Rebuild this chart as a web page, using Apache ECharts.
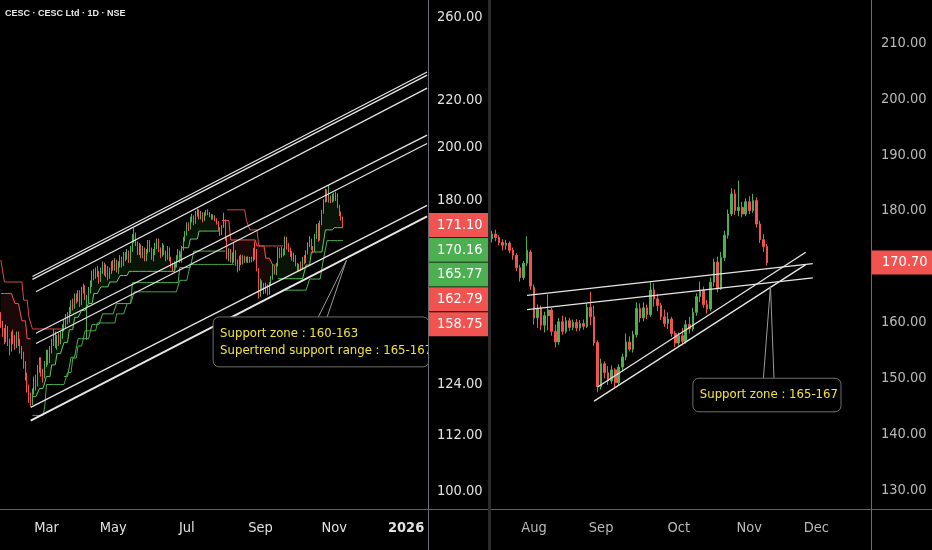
<!DOCTYPE html>
<html><head><meta charset="utf-8">
<script src="https://cdn.jsdelivr.net/npm/echarts@6.0.0/dist/echarts.min.js"></script>
<style>html,body{margin:0;padding:0;background:#000;overflow:hidden}#c{width:932px;height:550px}</style>
</head><body><div id="c"></div>
<script>
const FONT = "'Liberation Sans Narrow','DejaVu Sans Condensed',Roboto,sans-serif";
const NOTE_FONT = "'Liberation Sans Narrow','DejaVu Sans Condensed',sans-serif";
const UP = '#4caf50', DN = '#f05350';
const TITLE = 'CESC · CESC Ltd · 1D · NSE';
const holidays = ['2025-02-26','2025-03-14','2025-03-31','2025-04-10','2025-04-14','2025-04-18','2025-05-01','2025-08-15','2025-08-27','2025-10-02','2025-10-21','2025-10-22','2025-11-05','2025-12-25'];
const leftRange = ['2025-01-23','2026-01-19'];
const rightRange = ['2025-07-16','2025-12-22'];
const leftPriceRange = [96.45, 269.4];
const rightPriceRange = [126.6, 217.7];
const leftPriceTicks = [100,112,124,180,200,220,260];
const rightPriceTicks = [130,140,150,160,180,190,200,210];
const leftMonthTicks = [2,4,6,8,10,0];
const rightMonthTicks = [7,8,9,10,11];
const monthNames = ['Jan','Feb','Mar','Apr','May','Jun','Jul','Aug','Sep','Oct','Nov','Dec'];

// daily candles [open, close, low, high]
const jan25 = [[142,140,139,143.5],[140,138,136.5,141],[138,136,134.5,139],[136,139,135,140],[139,135,134,139.5],[135,133,131.5,136],[133,137,132.5,138]];
const feb25 = [[137,136,134.5,138.5],[136,134,133,137],[134,137,133.5,138],[137,135,134,138],[135,133,132,136],[133,132,130.5,134],[132,129,128,132.5],[129,126,125,130],[126,123,122,127],[123,121,119.5,124],[121,120,118.6,122],[120,122,119,123],[122,125,121.5,126],[125,124,122.5,126.5],[124,128,123.5,129],[128,130,127,131],[130,127,126,131],[127,126,124.5,128],[126,129,125.5,130]];
const mar25 = [[129,132,128.5,133],[132,130,129,133],[130,133,129.5,134],[133,135,132,136],[135,137,134,138.7],[137,134,133.5,138],[134,136,133,137],[136,135,134,137.5],[135,137,134.5,138],[137,139,136,140],[139,140,138,141.5],[140,142,139,143],[142,141,140,143.5],[141,144,140.5,145],[144,146,143,147],[146,145,144,147.5],[145,148,144.5,149],[148,147,146,149],[147,149,146.5,150]];
const apr25 = [[149,146,145,150],[146,150,145.5,151],[150,151,149,152],[151,148,147,151.5],[140,147,135.7,148.5],[147,150,146,151],[150,152,149,153],[152,155,151,156],[155,154,153,156.5],[154,156,153.5,157],[156,155,154,157.5],[155,153,152,156],[153,156,152.5,157],[156,158,155,159],[158,155,154.5,158.6],[155,157,154,158],[157,154,153,157.5],[154,156,153.5,157],[156,158,155,159]];
const may25 = [[158,157,156,159.4],[157,159,156,160],[159,156,155.5,159.5],[156,158,155,159],[158,160,157,161],[160,158,157,160.5],[158,161,157.5,162],[161,160,159,162],[160,162,159.5,163],[162,159,158.5,162.5],[159,163,158.5,164],[163,167,162,168],[167,168,165,170.2],[168,165,164,168.5],[165,162,161,165.5],[162,164,161,165],[164,161,160,164.5],[161,163,160,164],[163,160,159,163.5],[160,162,159,163],[162,165,161.5,166]];
const jun25 = [[165,163,162,166],[163,160,159.5,163.5],[160,162,159,163],[162,164,161,165],[164,166,163,166.5],[166,163,162,166.5],[163,161,160,163.5],[161,164,160.5,165],[164,162,161,164.5],[162,160,159,162.5],[160,163,159.5,164],[163,160,159,163.5],[160,158,157,160.5],[158,156,155.5,158.5],[156,158,155.5,159],[158,160,157,161],[160,162,159.5,163],[162,159,158.5,162.5],[159,163,158.5,164],[163,166,162.5,167],[166,168,165.5,169]];
const jul25 = [[168,171,167.5,172],[171,170,169,172],[170,173,169.5,174],[173,174,172,175],[174,172,171,174.5],[172,175,171.5,176],[175,176,174,176.8],[176,174,173,176.5],[174,175,173,176],[175,173,172,175.5],[173,174.8,172.5,175.5],
 [175.0,175.8,174.3,176.4],[175.8,175.2,174.5,176.6],[175.2,174.3,173.8,175.6],[174.3,173.8,172.9,174.9],[173.8,174.2,173.0,174.8],[174.2,172.9,172.4,174.5],[172.9,172.0,171.2,173.4],[172.0,169.8,169.2,172.4],[169.8,168.0,167.3,170.3],[168.0,170.6,167.6,171.0],[170.6,172.9,170.1,175.4],[172.6,166.5,165.8,173.0]];
const aug25 = [[166.3,160.8,159.6,166.8],[160.8,162.5,159.0,163.2],[162.5,159.5,158.6,163.0],[159.5,161.2,158.2,161.9],[161.2,162.2,158.6,165.0],[162.2,158.4,157.6,162.6],[158.4,156.5,155.5,159.6],[156.5,160.1,156.0,160.8],[160.1,158.4,157.8,161.2],[158.4,160.3,158.0,161.0],[160.3,159.1,158.5,160.8],[159.1,160.0,158.6,160.5],[160.0,159.0,158.4,160.6],[159.0,159.8,158.5,160.4],[159.8,159.3,158.7,160.5],[159.3,162.7,159.0,163.4],[162.7,161.0,159.5,165.5],[161.0,156.4,155.8,163.0],[156.4,148.5,147.5,156.8]];
const sep25 = [[148.5,152.6,148.0,153.5],[152.6,151.0,150.0,153.0],[151.0,149.5,148.8,152.2],[149.5,151.5,149.0,152.3],[151.5,149.2,148.4,151.8],[149.2,152.0,148.6,152.5],[152.0,153.8,151.2,154.4],[153.8,156.5,153.2,158.0],[156.5,155.2,154.8,157.5],[155.2,157.8,154.6,158.5],[157.8,162.5,157.3,163.6],[162.5,160.8,160.0,163.4],[160.8,162.6,160.2,163.6],[162.6,161.4,160.6,163.2],[161.4,165.8,161.0,167.2],[165.8,164.2,162.8,167.0],[164.2,163.0,162.0,165.0],[163.0,161.0,160.4,163.5],[161.0,159.8,159.2,162.3],[159.8,160.6,158.8,161.8],[160.6,158.0,157.4,161.0],[158.0,156.3,155.6,158.5]];
const oct25 = [[156.3,157.6,155.8,158.2],[157.6,156.6,155.9,159.0],[156.6,159.6,156.2,160.4],[159.6,158.8,158.0,161.0],[158.8,161.8,158.4,162.6],[161.8,164.6,161.2,165.2],[164.6,165.8,163.6,167.3],[165.8,163.2,162.6,166.4],[163.2,162.4,161.6,164.0],[162.4,167.2,162.0,168.0],[167.2,170.8,166.4,171.4],[170.8,166.0,165.4,171.8],[166.0,171.6,165.8,172.6],[171.6,175.6,171.0,176.4],[175.6,179.4,175.0,180.2],[179.4,183.0,179.0,184.0],[183.0,180.0,179.2,183.8],[180.0,180.6,179.0,185.4],[180.6,179.4,178.8,181.6],[179.4,181.6,179.0,182.2]];
const nov25 = [[181.6,180.0,179.4,182.6],[180.0,181.8,179.6,183.0],[181.8,177.6,177.0,182.4],[177.6,174.8,174.2,178.2],[174.8,173.6,172.6,175.8],[173.6,170.7,170.2,174.0]];

// supertrend step values [direction, from date, level]
const st1 = [['dn','2025-01-23',149],['dn','2025-02-04',146],['dn','2025-02-10',141],['dn','2025-02-13',136],
 ['up','2025-02-18',121],['up','2025-02-24',123],['up','2025-03-03',126],['up','2025-03-06',129],['up','2025-03-11',132],['up','2025-03-18',135],['up','2025-03-21',138.5],['up','2025-03-26',142],['up','2025-04-02',144],['up','2025-04-08',146],['up','2025-04-15',149],['up','2025-04-22',151],['up','2025-04-29',152.5],['up','2025-05-08',154.5],['up','2025-05-15',155.8],['up','2025-06-23',159],['up','2025-06-26',163.4],['up','2025-07-03',166.3],['up','2025-07-10',169],
 ['dn','2025-07-29',172.6],['dn','2025-08-05',166],['dn','2025-08-28',164],['dn','2025-09-04',160],['dn','2025-09-10',157.8],
 ['up','2025-09-15',153.5],['up','2025-10-08',157.8],['up','2025-10-13',162],['up','2025-10-27',169.4],['up','2025-11-03',170.16]];
const st2 = [['dn','2025-01-23',159.4],['dn','2025-01-27',152.5],['dn','2025-02-11',147],['dn','2025-02-14',142],['dn','2025-02-18',138.7],
 ['up','2025-03-18',126],['up','2025-03-24',131],['up','2025-03-28',136],['up','2025-04-11',140],['up','2025-04-23',143],['up','2025-05-06',146],['up','2025-05-19',152.3],['up','2025-06-25',157],['up','2025-07-07',162.3],
 ['dn','2025-08-01',176.4],['dn','2025-08-19',172.6],['dn','2025-08-21',169.4],['dn','2025-08-29',164],
 ['up','2025-09-19',150],['up','2025-10-10',153.4],['up','2025-10-24',160],['up','2025-10-28',165.77]];
const st3 = [['up','2025-02-18',116.5],['up','2025-02-28',118.5],['up','2025-03-03',124],['up','2025-03-20',127],['up','2025-03-25',130.8],['up','2025-03-28',134],['up','2025-04-04',138.2],['up','2025-04-17',140.4],['up','2025-05-06',143],['up','2025-05-14',146],['up','2025-05-20',149.5],['up','2025-06-25',153],['up','2025-07-03',158],['end','2025-08-08',null]];

// drawn trend lines [date, price]
const leftLines = [
 [['2025-02-18',154.2],['2026-01-19',233.0]],
 [['2025-02-18',153.3],['2026-01-19',231.5]],
 [['2025-02-20',149.5],['2026-01-19',225.5]],
 [['2025-02-20',137.5],['2026-01-19',205.1]],
 [['2025-02-20',134.7],['2026-01-19',201.7]],
 [['2025-02-17',118.4],['2026-01-19',178.0]],
 [['2025-02-17',115.3],['2026-01-19',174.1]]
];
const rightLines = [
 [['2025-07-30',164.85],['2025-11-28',170.53]],
 [['2025-07-30',162.3],['2025-11-28',167.95]],
 [['2025-08-29',148.44],['2025-11-26',172.55]],
 [['2025-08-28',145.9],['2025-11-26',170.34]]
];
const leftCallout = {from:'2025-07-22', to:'2026-01-19', top:142.1, bottom:128.5, text:['Support zone : 160-163','Supertrend support range : 165-167']};
const leftPointer = [['2025-10-17',142.1],['2025-11-13',159.3],['2025-10-28',142.1]];
const rightCallout = {from:'2025-10-08', to:'2025-12-10', top:150.0, bottom:144.0, text:['Support zone : 165-167']};
const rightPointer = [['2025-11-10',150.0],['2025-11-12',166.5],['2025-11-13',150.0]];
const leftTags = [[171.10,'dn'],[170.16,'up'],[165.77,'up'],[162.79,'dn'],[158.75,'dn']];
const rightTags = [[170.70,'dn']];

function tradingDays(from, to) {
  const out = []; const d = new Date(from + 'T00:00:00Z'); const e = new Date(to + 'T00:00:00Z');
  while (d <= e) {
    const wd = d.getUTCDay(); const s = d.toISOString().slice(0, 10);
    if (wd !== 0 && wd !== 6 && holidays.indexOf(s) < 0) out.push(s);
    d.setUTCDate(d.getUTCDate() + 1);
  }
  return out;
}
const leftDates = tradingDays(leftRange[0], leftRange[1]);
const rightDates = tradingDays(rightRange[0], rightRange[1]);
const ohlc = [].concat(jan25, feb25, mar25, apr25, may25, jun25, jul25, aug25, sep25, oct25, nov25);
const N = ohlc.length;
const rOff = leftDates.indexOf(rightDates[0]);
const L = Math.log;

function expandST(points) {
  const up = new Array(N).fill(null), dn = new Array(N).fill(null);
  for (let k = 0; k < points.length; k++) {
    const [dir, date, val] = points[k];
    if (dir === 'end') continue;
    const s = leftDates.indexOf(date);
    const e = k + 1 < points.length ? leftDates.indexOf(points[k + 1][1]) : N;
    for (let i = s; i < e; i++) (dir === 'up' ? up : dn)[i] = val;
  }
  return {up, dn};
}
const s1 = expandST(st1), s2 = expandST(st2), s3 = expandST(st3);
const lg = a => a.map(v => v == null ? null : L(v));
const mid = ohlc.map(r => (r[0] + r[1]) / 2);
const band = a => a.map((v, i) => v == null ? null : L(mid[i]) - L(v));

function monthStart(dates, i, months) {
  if (i === 0) return false;
  const m = +dates[i].slice(5, 7) - 1, pm = +dates[i - 1].slice(5, 7) - 1;
  return m !== pm && months.indexOf(m) >= 0;
}
function monthLabel(v) {
  const m = +v.slice(5, 7) - 1;
  return m === 0 ? '{y|' + v.slice(0, 4) + '}' : monthNames[m];
}

const chart = echarts.init(document.getElementById('c'), null, {renderer: 'canvas'});
const lineBase = {type: 'line', symbol: 'none', silent: true, animation: false};
const stLine = (data, color, xi) => Object.assign({}, lineBase, {xAxisIndex: xi, yAxisIndex: xi, data: lg(data), lineStyle: {color: color, width: 1}, z: 4});
const trend = (pts, xi, w) => Object.assign({}, lineBase, {xAxisIndex: xi, yAxisIndex: xi, data: pts.map(p => [p[0], xi === 0 ? L(p[1]) : p[1]]), lineStyle: {color: '#e6e6e6', width: w}, z: 6});

function calloutSeries(c, xi, extendRight) {
  return {
    type: 'custom', xAxisIndex: xi, yAxisIndex: xi, clip: true, silent: true, z: 8, animation: false,
    encode: {x: [0, 1], y: [2, 3]},
    data: [[c.from, c.to, xi === 0 ? L(c.top) : c.top, xi === 0 ? L(c.bottom) : c.bottom]],
    renderItem: function (params, api) {
      const a = api.coord([api.value(0), api.value(2)]);
      const b = api.coord([api.value(1), api.value(3)]);
      const half = extendRight ? api.size([1, 0])[0] / 2 + 1 : 0;
      const x0 = a[0], y0 = a[1], x1 = b[0] + half, y1 = b[1];
      const kids = [{type: 'rect', shape: {x: x0, y: y0, width: x1 - x0, height: y1 - y0, r: 6}, style: {fill: '#000', stroke: '#6e6e6e', lineWidth: 1}}];
      const n = c.text.length, step = 17;
      const cy = (y0 + y1) / 2 - (n - 1) * step / 2;
      c.text.forEach((t, i) => kids.push({type: 'text', style: {x: x0 + 7, y: cy + i * step, text: t, fill: '#f2e33a', fontSize: 13, fontFamily: NOTE_FONT, verticalAlign: 'middle', align: 'left'}}));
      return {type: 'group', children: kids};
    }
  };
}

const axisFont = {fontFamily: FONT, fontSize: 14.5};
const option = {
  backgroundColor: '#000', animation: false,
  title: {text: TITLE, left: 5, top: 9, padding: 0, textStyle: {color: '#e8e8e8', fontSize: 9, fontWeight: 'bold', fontFamily: "'Liberation Sans',Arial,sans-serif"}},
  grid: [
    {left: 0, top: 0, width: 428, height: 509, outerBoundsMode: 'none', containLabel: false},
    {left: 490, top: 0, width: 381, height: 509, outerBoundsMode: 'none', containLabel: false}
  ],
  xAxis: [
    {type: 'category', gridIndex: 0, data: leftDates, boundaryGap: true, axisLine: {show: false}, axisTick: {show: false}, splitLine: {show: false},
     axisLabel: Object.assign({color: '#e0e0e0', margin: 12, interval: (i, v) => monthStart(leftDates, i, leftMonthTicks), formatter: monthLabel,
       rich: {y: {fontWeight: 'bold', color: '#e0e0e0', fontSize: 14.5, fontFamily: FONT}}}, axisFont)},
    {type: 'category', gridIndex: 1, data: rightDates, boundaryGap: true, axisLine: {show: false}, axisTick: {show: false}, splitLine: {show: false},
     axisLabel: Object.assign({color: '#b9b9b9', margin: 12, interval: (i, v) => monthStart(rightDates, i, rightMonthTicks), formatter: monthLabel,
       rich: {y: {fontWeight: 'bold', color: '#b9b9b9', fontSize: 14.5, fontFamily: FONT}}}, axisFont)}
  ],
  yAxis: [
    {type: 'value', gridIndex: 0, position: 'right', min: L(leftPriceRange[0]), max: L(leftPriceRange[1]), axisLine: {show: false}, axisTick: {show: false}, splitLine: {show: false},
     axisLabel: Object.assign({color: '#e0e0e0', margin: 9, customValues: leftPriceTicks.map(L), formatter: v => Math.exp(v).toFixed(2)}, axisFont)},
    {type: 'value', gridIndex: 1, position: 'right', min: rightPriceRange[0], max: rightPriceRange[1], axisLine: {show: false}, axisTick: {show: false}, splitLine: {show: false},
     axisLabel: Object.assign({color: '#b9b9b9', margin: 10, customValues: rightPriceTicks, formatter: v => v.toFixed(2)}, axisFont)}
  ],
  series: [
    Object.assign({}, lineBase, {xAxisIndex: 0, yAxisIndex: 0, stack: 'fu', stackStrategy: 'all', data: lg(s1.up), lineStyle: {opacity: 0}, z: 1}),
    Object.assign({}, lineBase, {xAxisIndex: 0, yAxisIndex: 0, stack: 'fu', stackStrategy: 'all', data: band(s1.up), lineStyle: {opacity: 0}, areaStyle: {color: 'rgba(76,175,80,0.16)'}, z: 1}),
    Object.assign({}, lineBase, {xAxisIndex: 0, yAxisIndex: 0, stack: 'fd', stackStrategy: 'all', data: lg(s1.dn), lineStyle: {opacity: 0}, z: 1}),
    Object.assign({}, lineBase, {xAxisIndex: 0, yAxisIndex: 0, stack: 'fd', stackStrategy: 'all', data: band(s1.dn), lineStyle: {opacity: 0}, areaStyle: {color: 'rgba(240,83,80,0.16)'}, z: 1}),
    stLine(s1.up, '#5cc95f', 0), stLine(s1.dn, DN, 0),
    stLine(s2.up, '#4fb653', 0), stLine(s2.dn, '#e0474a', 0),
    stLine(s3.up, '#47a84b', 0),
    {type: 'candlestick', xAxisIndex: 0, yAxisIndex: 0, data: ohlc.map(r => r.map(L)), barWidth: '60%', z: 5, silent: true,
     itemStyle: {color: UP, color0: DN, borderColor: UP, borderColor0: DN, borderWidth: 1}},
    ...leftLines.map((p, i) => trend(p, 0, i === 6 ? 2 : 1.2)),
    Object.assign({}, lineBase, {xAxisIndex: 0, yAxisIndex: 0, data: leftPointer.map(p => [p[0], L(p[1])]), lineStyle: {color: '#9a9a9a', width: 1}, z: 7}),
    calloutSeries(leftCallout, 0, true),
    {type: 'candlestick', xAxisIndex: 1, yAxisIndex: 1, data: ohlc.slice(rOff), barWidth: '60%', z: 5, silent: true,
     itemStyle: {color: UP, color0: DN, borderColor: UP, borderColor0: DN, borderWidth: 1}},
    ...rightLines.map(p => trend(p, 1, 1.3)),
    Object.assign({}, lineBase, {xAxisIndex: 1, yAxisIndex: 1, data: rightPointer, lineStyle: {color: '#9a9a9a', width: 1}, z: 7}),
    calloutSeries(rightCallout, 1, false)
  ]
};
chart.setOption(option);

function tagEls(tags, yi, x, w, tx) {
  const els = []; let prev = -Infinity; const H = 24.8;
  tags.forEach(([v, dir]) => {
    let y = chart.convertToPixel({yAxisIndex: yi}, yi === 0 ? L(v) : v);
    y = Math.max(y, prev + H); prev = y;
    els.push({type: 'rect', silent: true, z: 20, shape: {x: x, y: y - 12, width: w, height: 24}, style: {fill: dir === 'up' ? UP : DN}});
    els.push({type: 'text', silent: true, z: 21, style: {x: tx, y: y, text: v.toFixed(2), fill: '#ffffff', fontSize: 14.5, fontFamily: FONT, verticalAlign: 'middle', align: 'left'}});
  });
  return els;
}
const staticEls = [
  {type: 'line', silent: true, z: 15, shape: {x1: 0, y1: 509.5, x2: 932, y2: 509.5}, style: {stroke: '#5f626b', lineWidth: 1}},
  {type: 'line', silent: true, z: 15, shape: {x1: 428.5, y1: 0, x2: 428.5, y2: 550}, style: {stroke: '#6a6d76', lineWidth: 1}},
  {type: 'line', silent: true, z: 15, shape: {x1: 871.5, y1: 0, x2: 871.5, y2: 550}, style: {stroke: '#6a6d76', lineWidth: 1}},
  {type: 'rect', silent: true, z: 16, shape: {x: 488, y: 0, width: 3, height: 550}, style: {fill: '#2b2b2b'}}
];
chart.setOption({graphic: {elements: staticEls.concat(tagEls(leftTags, 0, 429, 59, 437), tagEls(rightTags, 1, 872, 60, 882))}});
</script></body></html>
